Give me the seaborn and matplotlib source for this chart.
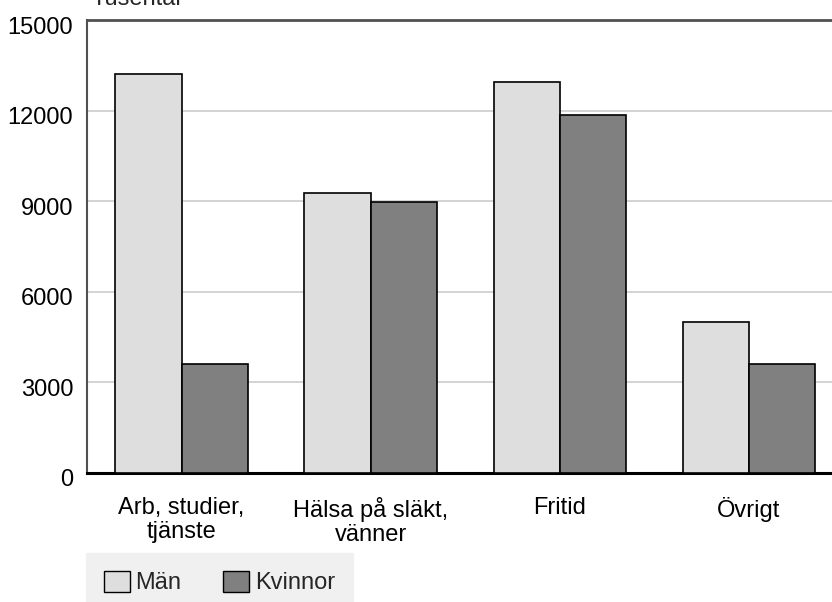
import numpy as np
import pandas as pd
import seaborn as sns
import matplotlib.pyplot as plt
import matplotlib.transforms as mtransforms
from matplotlib.patches import Patch

# data
kategorier = ["Arb, studier,\ntjänste", "Hälsa på släkt,\nvänner", "Fritid", "Övrigt"]
man = [13200, 9270, 12950, 5000]
kvinnor = [3600, 8970, 11850, 3600]
y_ticks = [0, 3000, 6000, 9000, 12000, 15000]

df = pd.DataFrame({
    "Kategori": kategorier * 2,
    "Kön": ["Män"] * 4 + ["Kvinnor"] * 4,
    "Värde": man + kvinnor,
})

sns.set_style("white")
plt.rcParams["font.family"] = ["Liberation Sans", "DejaVu Sans"]

fig = plt.figure(figsize=(8.32, 6.02), dpi=100)
axes = fig.add_axes([87 / 832, 129 / 602, 756.5 / 832, 453 / 602])

farger = {"Män": "#dedede", "Kvinnor": "#808080"}
sns.barplot(data=df, x="Kategori", y="Värde", hue="Kön", palette=farger,
            edgecolor="black", linewidth=1.2, width=0.7, gap=0, saturation=1,
            ax=axes, zorder=3)
axes.get_legend().remove()

axes.set_xlim(-0.5, 3.5)
axes.set_ylim(0, 15000)
axes.set_yticks(y_ticks)
axes.yaxis.grid(True, color="#cccccc", linewidth=1.2, zorder=0)
axes.set_axisbelow(True)
axes.tick_params(axis="both", length=0, labelsize=17, colors="black")
axes.tick_params(axis="y", pad=10)
axes.tick_params(axis="x", pad=17)
for lbl in axes.get_xticklabels():
    lbl.set_linespacing(1.15)
    lbl.set_va("top")
# y labels sit a little below their gridlines in the reference
skift = mtransforms.ScaledTranslation(0, -5 / 100, fig.dpi_scale_trans)
for lbl in axes.get_yticklabels():
    lbl.set_transform(lbl.get_transform() + skift)
axes.set_xlabel("")
axes.set_ylabel("")

axes.spines["right"].set_visible(False)
axes.spines["top"].set_color("#505050")
axes.spines["top"].set_linewidth(2)
axes.spines["left"].set_color("#505050")
axes.spines["left"].set_linewidth(1.5)
axes.spines["bottom"].set_color("black")
axes.spines["bottom"].set_linewidth(2.2)

# axis unit, cut at the top edge as in the reference
fig.text(92 / 832, 1 - 5 / 602, "Tusental", fontsize=17, ha="left", va="baseline")

handles = [Patch(facecolor=farger[k], edgecolor="black", linewidth=1) for k in ["Män", "Kvinnor"]]
leg = fig.legend(handles, ["Män", "Kvinnor"], loc="lower left",
                 bbox_to_anchor=(86 / 832, -10 / 602), borderaxespad=0, ncol=2,
                 frameon=True, fontsize=17, handlelength=1.1, handleheight=1.0,
                 handletextpad=0.25, columnspacing=1.75, borderpad=0.75,
                 fancybox=False)
leg.get_frame().set_facecolor("#f0f0f0")
leg.get_frame().set_edgecolor("#f0f0f0")
leg.get_frame().set_alpha(1)

fig.savefig("out.png", dpi=100)
